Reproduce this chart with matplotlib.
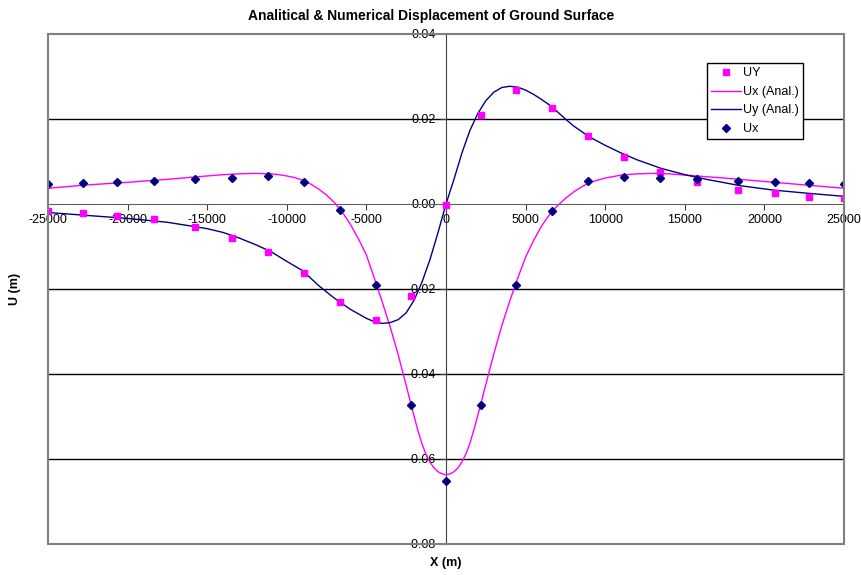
import numpy as np
import matplotlib.pyplot as plt
from matplotlib.patches import Rectangle

plt.rcParams['font.family'] = ['Liberation Sans', 'DejaVu Sans']
plt.rcParams['axes.unicode_minus'] = False

# mesh nodes along the ground surface
x_nodes = [-25000, -22800, -20650, -18350, -15750, -13450, -11200, -8950, -6650, -4400, -2200, 0,
           2200, 4400, 6650, 8950, 11200, 13450, 15750, 18350, 20650, 22800, 25000]
uy_num = [-0.0016, -0.0020, -0.0028, -0.0036, -0.0054, -0.0081, -0.0113, -0.0162, -0.0230, -0.0272, -0.0216, -0.0003,
          0.0210, 0.0268, 0.0227, 0.0159, 0.0110, 0.0076, 0.0051, 0.0033, 0.0025, 0.0016, 0.0014]
ux_num = [0.0048, 0.0050, 0.0052, 0.0055, 0.0059, 0.0061, 0.0065, 0.0052, -0.0014, -0.0191, -0.0473, -0.0651,
          -0.0474, -0.0191, -0.0016, 0.0055, 0.0064, 0.0061, 0.0058, 0.0055, 0.0052, 0.0050, 0.0048]

# analytical curves
x_ux_an = [-25000, -22500, -20000, -17500, -15000, -14000, -13000, -12000, -11000, -10500, -10000, -9500,
           -9000, -8500, -8000, -7500, -7000, -6500, -6000, -5500, -5000, -4500, -4000, -3500, -3000, -2500,
           -2000, -1750, -1500, -1250, -1000, -750, -500, -250, 0,
           250, 500, 750, 1000, 1250, 1500, 1750, 2000, 2500, 3000, 3500, 4000, 4500, 5000, 5500, 6000,
           6500, 7000, 7500, 8000, 8500, 9000, 9500, 10000, 11000, 12000, 13000, 14000, 15000, 17500,
           20000, 22500, 25000]
ux_an = [0.0037, 0.0045, 0.0051, 0.0058, 0.0066, 0.0069, 0.0071, 0.0072, 0.0071, 0.0069, 0.0066, 0.0062,
         0.0056, 0.0047, 0.0035, 0.0021, 0.0003, -0.0020, -0.0048, -0.0082, -0.0120, -0.0175, -0.0231, -0.0290,
         -0.0355, -0.0427, -0.0500, -0.0535, -0.0565, -0.0590, -0.0608, -0.0621, -0.0630, -0.0635, -0.0637,
         -0.0635, -0.0630, -0.0621, -0.0607, -0.0588, -0.0563, -0.0532, -0.0497, -0.0425, -0.0353, -0.0287,
         -0.0229, -0.0175, -0.0125, -0.0086, -0.0052, -0.0025, -0.0004, 0.0013, 0.0028, 0.0040, 0.0050,
         0.0056, 0.0061, 0.0068, 0.0071, 0.0072, 0.0071, 0.0068, 0.0061, 0.0053, 0.0045, 0.0037]

x_uy_an = [-25000, -22500, -20000, -17500, -15000, -14000, -13000, -12000, -11000, -10000, -9000, -8000,
           -7000, -6000, -5000, -4500, -4000, -3500, -3000, -2500, -2000, -1500, -1000, -500, 0,
           500, 1000, 1500, 2000, 2500, 3000, 3500, 4000, 4500, 5000, 5500, 6000, 6500, 7000, 7500, 8000,
           9000, 10000, 11000, 12000, 13500, 15000, 16500, 18500, 20500, 22500, 25000]
uy_an = [-0.0020, -0.0027, -0.0034, -0.0043, -0.0058, -0.0067, -0.0080, -0.0095, -0.0112, -0.0135, -0.0157,
         -0.0192, -0.0222, -0.0248, -0.0269, -0.0277, -0.0281, -0.0279, -0.0272, -0.0256, -0.0226, -0.0183,
         -0.0130, -0.0067, 0.0,
         0.0058, 0.0120, 0.0173, 0.0213, 0.0243, 0.0263, 0.0274, 0.0277, 0.0275, 0.0268, 0.0258, 0.0246,
         0.0233, 0.0217, 0.0200, 0.0184, 0.0158, 0.0138, 0.0120, 0.0104, 0.0084, 0.0069, 0.0057, 0.0043,
         0.0033, 0.0026, 0.0018]

fig = plt.figure(figsize=(8.61, 5.75), dpi=100)
ax = fig.add_axes([48/861, 31/575, 796/861, 510/575])

for g in [0.02, -0.02, -0.04, -0.06]:
    ax.axhline(g, color='black', lw=1, zorder=1)

ax.plot(x_nodes, uy_num, 's', color='#FF00FF', ms=5, mec='#FF00FF', label='UY', zorder=4)
ax.plot(x_ux_an, ux_an, '-', color='#FF00FF', lw=1, label='Ux (Anal.)', zorder=3)
ax.plot(x_uy_an, uy_an, '-', color='#000080', lw=1, label='Uy (Anal.)', zorder=3)
ax.plot(x_nodes, ux_num, 'D', color='#000080', ms=4.5, label='Ux', zorder=4)

ax.set_xlim(-25000, 25000)
ax.set_ylim(-0.08, 0.04)
ax.set_xticks(np.arange(-25000, 25001, 5000))
ax.set_yticks(np.arange(-0.08, 0.0401, 0.02))
ax.yaxis.set_major_formatter(plt.FormatStrFormatter('%.2f'))

for s in ['top', 'right']:
    ax.spines[s].set_visible(False)
ax.spines['left'].set_position(('data', 0))
ax.spines['bottom'].set_position(('data', 0))
ax.spines['left'].set_color('#404040')
ax.spines['bottom'].set_color('#606060')
ax.tick_params(direction='out', length=4, labelsize=9, colors='#404040', labelcolor='black')
ax.add_patch(Rectangle((0, 0), 1, 1, transform=ax.transAxes, fill=False,
                       ec='#808080', lw=1.5, clip_on=False, zorder=5))

leg = ax.legend(loc='upper left', bbox_to_anchor=(707/861, 1 - 63/575), bbox_transform=fig.transFigure,
                fontsize=9, frameon=True, fancybox=False, edgecolor='black', framealpha=1,
                borderaxespad=0, handlelength=2.4, labelspacing=0.52, borderpad=0.35, handletextpad=0.15)
leg.get_frame().set_linewidth(1)

fig.text(431/861, 1 - 16/575, 'Analitical & Numerical Displacement of Ground Surface',
         ha='center', va='center', fontsize=10, weight='bold')
fig.text(446/861, 1 - 563/575, 'X (m)', ha='center', va='center', fontsize=9, weight='bold')
fig.text(15/861, 1 - 289/575, 'U (m)', ha='center', va='center', fontsize=9, weight='bold', rotation=90)

fig.savefig('out.png', dpi=100)
